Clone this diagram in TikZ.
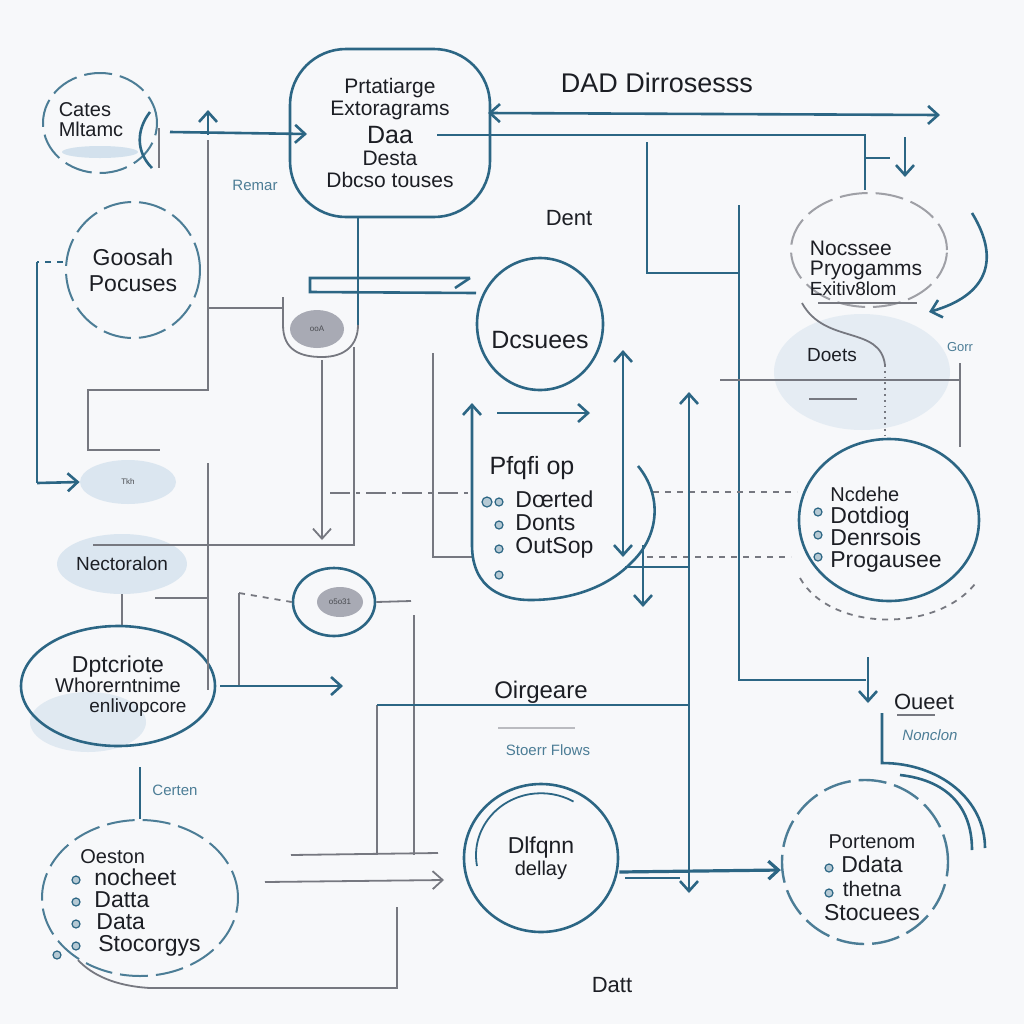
\documentclass[tikz,border=0pt]{standalone}
\usepackage{fontspec}
\setmainfont{Liberation Sans}
\usetikzlibrary{arrows.meta,shapes.geometric,positioning}
\definecolor{flowteal}{RGB}{44,102,132}
\definecolor{flowgray}{RGB}{118,120,128}
\definecolor{flowink}{RGB}{28,30,36}
\definecolor{flowpale}{RGB}{196,216,232}
\definecolor{flowpaper}{RGB}{247,248,250}
\definecolor{flowoval}{RGB}{168,170,180}
\tikzset{
    >={Straight Barb[length=5pt, width=9pt]},
    bubble/.style = {draw=flowteal, ellipse, line width=1.3pt, inner sep=0pt},
    dash-bubble/.style = {bubble, draw=flowteal!85, line width=1pt, dash pattern=on 14pt off 4pt},
    blob/.style = {ellipse, fill=flowpale, fill opacity=0.55, text opacity=1, inner sep=0pt},
    teal-line/.style = {draw=flowteal, line width=1.3pt},
    gray-line/.style = {draw=flowgray, line width=0.9pt},
    teal-arrow/.style = {teal-line, ->},
    gray-arrow/.style = {gray-line, ->},
    txt/.style = {text=flowink, font=\fontsize{11}{12}\selectfont, inner sep=0pt},
    small-txt/.style = {text=flowteal!85, font=\fontsize{7.5}{9}\selectfont, inner sep=0pt},
    tiny-txt/.style = {text=flowink!80, font=\fontsize{4}{5}\selectfont, inner sep=0pt},
    bullet-dot/.style = {circle, draw=flowteal, fill=flowteal!35, line width=0.6pt, inner sep=0pt, minimum size=4pt},
}
\begin{document}
\begin{tikzpicture}[x=0.5pt, y=-0.5pt]
\fill[flowpaper] (0,0) rectangle (1024,1024);
\useasboundingbox (0,0) rectangle (1024,1024);

% pale washes
\fill[flowpale, opacity=0.7] (100,152) ellipse (38 and 6);
\node[blob, minimum width=48pt, minimum height=22pt, tiny-txt] (tkh) at (128,482) {Tkh};
\node[blob, minimum width=58pt, minimum height=30pt, txt, font=\fontsize{9.5}{10}\selectfont] (nectoralon) at (122,564) {Nectoralon};
\node[blob, fill opacity=0.35, minimum width=88pt, minimum height=58pt] (doets) at (862,372) {};
\fill[flowpale, opacity=0.45] (88,722) ellipse (58 and 30);

% top row
\node[dash-bubble, minimum width=57pt, minimum height=50pt] (cates) at (100,123) {};
\node[txt, align=left, font=\fontsize{10}{10}\selectfont] at (91,120) {Cates\\Mltamc};
\draw[teal-line] (150,112) .. controls (136,130) and (136,152) .. (152,168);
\draw[gray-line] (159,128) -- (159,168);

\node[draw=flowteal, line width=1.3pt, rounded corners=28pt, minimum width=100pt, minimum height=84pt,
      txt, align=center, font=\fontsize{10.5}{11}\selectfont] (prtatiarge) at (390,133)
      {Prtatiarge\\Extoragrams\\[3pt]{\fontsize{12.5}{12}\selectfont Daa}\\Desta\\Dbcso touses};
\node[txt, font=\fontsize{13.5}{14}\selectfont] (dad) at (657,83) {DAD Dirrosesss};
\node[txt] (dent) at (569,218) {Dent};
\node[small-txt] at (255,185) {Remar};

\draw[teal-arrow] (170,132) -- (307,134);
\draw[teal-arrow] (208,135) -- (208,110);
\draw[gray-line] (208,140) -- (208,390) -- (88,390) -- (88,450) -- (160,450);
\draw[teal-line, <->] (488,113) -- (940,115);
\draw[teal-line] (437,135) -- (865,135) -- (865,190);
\draw[teal-line] (865,158) -- (890,158);
\draw[teal-arrow] (905,137) -- (905,177);
\draw[teal-line] (647,142) -- (647,273) -- (739,273);
\draw[teal-line] (739,205) -- (739,680) -- (866,680);
\draw[teal-arrow] (868,657) -- (868,703);

% right upper bubble
\node[dash-bubble, draw=flowgray!70, minimum width=78pt, minimum height=57pt] (nocssee) at (869,250) {};
\node[txt, align=left, font=\fontsize{10.5}{10}\selectfont] at (866,268) {Nocssee\\Pryogamms\\{\fontsize{9.5}{10}\selectfont Exitiv8lom}};
\draw[gray-line] (818,303) -- (917,303);
\draw[teal-arrow] (972,213) .. controls (1002,262) and (985,296) .. (929,312);
\node[txt, font=\fontsize{9.5}{10}\selectfont] at (832,355) {Doets};
\draw[gray-line] (802,303) .. controls (825,345) and (880,325) .. (885,365);
\draw[gray-line, dotted] (885,365) -- (885,440);
\draw[gray-line] (720,380) -- (960,380);
\draw[gray-line] (960,363) -- (960,447);
\draw[gray-line] (809,399) -- (857,399);
\node[small-txt, font=\fontsize{6.5}{7}\selectfont] at (960,347) {Gorr};

% left column
\node[dash-bubble, minimum width=67pt, minimum height=68pt, txt, align=center, font=\fontsize{11.5}{13}\selectfont] (goosah) at (133,270) {Goosah\\Pocuses};
\draw[teal-line, dashed] (63,262) -- (37,262);
\draw[teal-line] (37,262) -- (37,483);
\draw[teal-arrow] (37,483) -- (tkh.west);

% cup and bar
\draw[teal-line] (358,217) -- (358,325);
\draw[gray-line] (207,308) -- (283,308);
\draw[gray-line] (283,297) -- (283,325) .. controls (283,350) and (300,357) .. (322,357) .. controls (345,357) and (358,345) .. (358,325);
\node[ellipse, fill=flowoval, minimum width=27pt, minimum height=19pt, tiny-txt] (cup-oval) at (317,329) {ooA};
\draw[teal-line] (470,278) -- (310,278) -- (310,292) -- (476,293);
\draw[teal-line] (470,278) -- (455,288);
\draw[gray-arrow] (322,360) -- (322,540);
\draw[gray-line] (354,347) -- (354,545) -- (93,545);
\draw[gray-line] (433,353) -- (433,557) -- (472,557);
\draw[gray-line, dash pattern=on 10pt off 3pt on 2pt off 3pt] (330,493) -- (470,493);
\draw[gray-line, dashed] (653,492) -- (797,492);
\draw[gray-line, dashed] (647,557) -- (791,557);

% middle
\node[bubble, minimum width=63pt, minimum height=66pt] (dcsuees) at (540,324) {};
\node[txt, font=\fontsize{12.5}{13}\selectfont] at (540,340) {Dcsuees};
\draw[teal-arrow] (497,413) -- (590,413);
\draw[teal-line, <->] (623,350) -- (623,557);
\draw[teal-line, <->] (689,392) -- (689,893);
\draw[teal-line, <-] (472,403) -- (472,545) .. controls (472,590) and (505,600) .. (530,600)
      .. controls (575,600) and (610,585) .. (632,562) .. controls (660,535) and (662,495) .. (638,466);
\draw[teal-line] (625,567) -- (689,567);
\draw[teal-arrow] (643,545) -- (643,607);
\node[txt, font=\fontsize{12.5}{13}\selectfont] (pfqfi) at (532,468) {Pfqfi op};
\node[txt, anchor=west, align=left, font=\fontsize{11.5}{11.5}\selectfont] at (515,525) {Dœrted\\Donts\\OutSop};
\foreach \yb in {502,525,549,575} \node[bullet-dot] at (499,\yb) {};
\node[bullet-dot, minimum size=5pt] at (487,502) {};

% right middle
\node[bubble, minimum width=90pt, minimum height=81pt] (nodehe) at (889,520) {};
\node[txt, anchor=west, align=left, font=\fontsize{11.5}{11}\selectfont] at (830,530)
      {{\fontsize{10}{11}\selectfont Ncdehe}\\Dotdiog\\Denrsois\\Progausee};
\foreach \yb in {512,535,557} \node[bullet-dot] at (818,\yb) {};
\draw[gray-line, dashed] (800,578) .. controls (830,632) and (940,634) .. (978,580);
\node[txt] (oueet) at (924,702) {Oueet};
\draw[gray-line] (897,715) -- (935,715);
\node[small-txt, font=\fontsize{7.5}{9}\itshape] at (930,735) {Nonclon};

% lower left
\draw[gray-line] (nectoralon.south) -- ++(0,33);
\node[bubble, minimum width=90pt, minimum height=60pt, txt, align=center, font=\fontsize{10}{10}\selectfont] (dptcriote) at (118,686)
      {{\fontsize{11.5}{11}\selectfont Dptcriote}\\Whorerntnime\\\hspace*{20pt}{\fontsize{9.5}{9}\selectfont enlivopcore}};
\draw[gray-line] (208,463) -- (208,690);
\draw[gray-line] (155,598) -- (208,598);
\node[bubble, minimum width=41pt, minimum height=34pt] (oval-low) at (334,602) {};
\node[ellipse, fill=flowoval, minimum width=23pt, minimum height=15pt, tiny-txt] at (340,602) {o5o31};
\draw[gray-line] (239,685) -- (239,593);
\draw[gray-line, dashed] (239,593) -- (oval-low.west);
\draw[teal-arrow] (220,686) -- (343,686);
\draw[gray-line] (oval-low.east) -- (411,601);
\draw[gray-line] (414,615) -- (414,855);
\draw[gray-line] (377,855) -- (377,705);
\draw[teal-line] (377,705) -- (689,705);
\node[txt, font=\fontsize{12}{13}\selectfont] (oirgeare) at (541,692) {Oirgeare};
\draw[gray-line, flowgray!50] (498,728) -- (575,728);
\node[small-txt] at (548,750) {Stoerr Flows};

% bottom row
\node[small-txt] at (175,790) {Certen};
\node[dash-bubble, minimum width=98pt, minimum height=78pt] (oeston) at (140,898) {};
\draw[teal-line] (oeston.north) -- ++(0,-52);
\node[txt, anchor=west, align=left, font=\fontsize{11.5}{11}\selectfont] at (80,903)
      {{\fontsize{10}{11}\selectfont Oeston}\\\hspace*{7pt}nocheet\\\hspace*{7pt}Datta\\\hspace*{8pt}Data\\\hspace*{9pt}Stocorgys};
\foreach \yb in {880,902,924,946} \node[bullet-dot] at (76,\yb) {};
\node[bullet-dot] at (57,955) {};
\draw[gray-line] (291,855) -- (438,853);
\draw[gray-arrow] (265,882) -- (444,880);
\draw[gray-line] (397,907) -- (397,988) -- (150,988) .. controls (115,986) and (92,975) .. (78,960);

\node[bubble, minimum width=77pt, minimum height=74pt, txt, align=center, font=\fontsize{11.5}{11}\selectfont] (dlfqnn) at (541,858)
      {Dlfqnn\\{\fontsize{10}{11}\selectfont dellay}};
\draw[teal-line, line width=0.9pt] (477,866) arc[start angle=170, end angle=300, x radius=65, y radius=62];
\node[dash-bubble, line width=1.2pt, minimum width=83pt, minimum height=82pt] (portenom) at (865,862) {};
\node[txt, align=center, font=\fontsize{11.5}{12}\selectfont] at (872,878)
      {{\fontsize{10}{12}\selectfont Portenom}\\Ddata\\{\fontsize{10.5}{12}\selectfont thetna}\\Stocuees};
\foreach \yb in {868,893} \node[bullet-dot] at (829,\yb) {};
\draw[teal-arrow, line width=1.6pt] ([yshift=-7pt]dlfqnn.east) -- ([yshift=-4pt]portenom.west);
\draw[teal-line, line width=0.9pt] (625,878) -- (680,878);
\draw[teal-line] (882,713) -- (882,763) .. controls (940,763) and (985,800) .. (985,848);
\draw[teal-line] (900,775) .. controls (945,780) and (972,805) .. (972,850);
\node[txt] (datt) at (612,985) {Datt};
\end{tikzpicture}
\end{document}
